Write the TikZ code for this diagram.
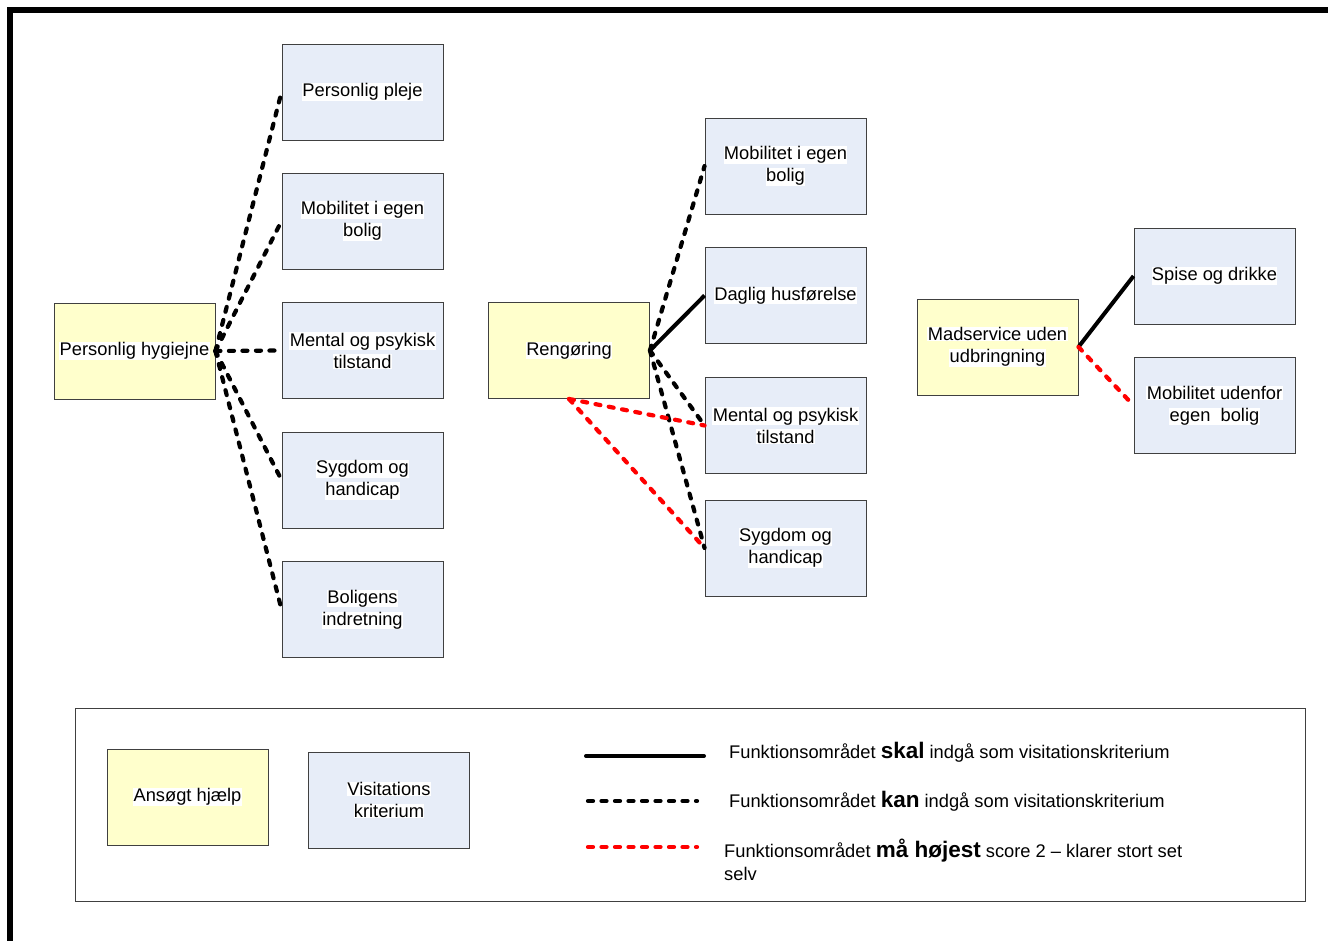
\documentclass[tikz,border=0pt]{standalone}
\usepackage{fontspec}
\setmainfont{Liberation Sans}
\definecolor{askfill}{HTML}{FFFFCC}
\definecolor{critfill}{HTML}{E7EDF8}
\definecolor{boxline}{HTML}{404040}
\newcommand\lbl{\fontsize{18.3}{22}\selectfont}
\newcommand\hl[1]{{\setlength{\fboxsep}{0.4pt}\colorbox{white}{#1}}}
\tikzset{
 x=1pt,y=-1pt,
 boxbase/.style={draw=boxline, line width=0.9pt, minimum width=161pt, minimum height=96pt, inner sep=0pt, align=center, font=\lbl},
 askbox/.style={boxbase, fill=askfill},
 critbox/.style={boxbase, fill=critfill},
 must/.style={line width=4pt, black},
 may/.style={line width=4.2pt, black, dash pattern=on 5pt off 8.5pt, line cap=round},
 maxtwo/.style={may, red},
 legtext/.style={anchor=base west, inner sep=0pt, font=\lbl},
}
\begin{document}
\begin{tikzpicture}
\useasboundingbox (0,0) rectangle (1328,941);
\clip (0,0) rectangle (1328,941);
\fill[white] (0,0) rectangle (1328,941);
% outer frame
\draw[line width=5.5pt] (10,960) -- (10,10) -- (1340,10);

% group 1
\node[askbox] (ph) at (134.5,351) {\hl{Personlig hygiejne}};
\node[critbox] (pp) at (362.5,92) {\hl{Personlig pleje}};
\node[critbox] (mb1) at (362.5,221) {\hl{Mobilitet i egen}\\\hl{bolig}};
\node[critbox] (mp1) at (362.5,350.5) {\hl{Mental og psykisk}\\\hl{tilstand}};
\node[critbox] (sh1) at (362.5,480) {\hl{Sygdom og}\\\hl{handicap}};
\node[critbox] (bi) at (362.5,609.5) {\hl{Boligens}\\\hl{indretning}};

% group 2
\node[askbox] (rg) at (569,350.5) {\hl{Rengøring}};
\node[critbox] (mb2) at (785.5,166) {\hl{Mobilitet i egen}\\\hl{bolig}};
\node[critbox] (dh) at (785.5,295.5) {\hl{Daglig husførelse}};
\node[critbox] (mp2) at (785.5,425.5) {\hl{Mental og psykisk}\\\hl{tilstand}};
\node[critbox] (sh2) at (785.5,548) {\hl{Sygdom og}\\\hl{handicap}};

% group 3
\node[askbox] (ms) at (997.5,347) {\hl{Madservice uden}\\\hl{udbringning}};
\node[critbox] (sd) at (1214.5,276) {\hl{Spise og drikke}};
\node[critbox] (mu) at (1214.5,405.5) {\hl{Mobilitet udenfor}\\\hl{egen\ \ bolig}};

% connectors group 1
\draw[may] (ph.east) -- (pp.west);
\draw[may] (ph.east) -- (mb1.west);
\draw[may] (ph.east) -- (mp1.west);
\draw[may] (ph.east) -- (sh1.west);
\draw[may] (ph.east) -- (bi.west);
% connectors group 2
\draw[may] (rg.east) -- (mb2.west);
\draw[must] (rg.east) -- (dh.west);
\draw[may] (rg.east) -- (mp2.west);
\draw[may] (rg.east) -- (sh2.west);
\draw[maxtwo] (rg.south) -- (mp2.west);
\draw[maxtwo] (rg.south) -- (sh2.west);
% connectors group 3
\draw[must] (ms.east) -- (sd.west);
\draw[maxtwo] (ms.east) -- (mu.west);

% legend
\node[draw=boxline, line width=0.9pt, minimum width=1230pt, minimum height=193pt, inner sep=0pt] (leg) at (690,804.5) {};
\node[askbox] (la) at (187.5,797) {\hl{Ansøgt hjælp}};
\node[critbox] (lc) at (389,800) {\hl{Visitations}\\\hl{kriterium}};
\coordinate (s1) at (586,756); \coordinate (e1) at (704,756);
\coordinate (s2) at (588,801); \coordinate (e2) at (697,801);
\coordinate (s3) at (588,847); \coordinate (e3) at (697,847);
\draw[must, line cap=round] (s1) -- (e1);
\draw[may] (s2) -- (e2);
\draw[maxtwo] (s3) -- (e3);
\node[legtext] (t1) at (729,758.5) {Funktionsområdet {\fontsize{22.5}{24}\selectfont\bfseries skal} indgå som visitationskriterium};
\node[legtext] (t2) at (729,807.5) {Funktionsområdet {\fontsize{22.5}{24}\selectfont\bfseries kan} indgå som visitationskriterium};
\node[legtext] (t3) at (724,857.5) {Funktionsområdet {\fontsize{22.5}{24}\selectfont\bfseries må højest} score 2 – klarer stort set};
\node[legtext] (t4) at (724,880.5) {selv};
\end{tikzpicture}
\end{document}
